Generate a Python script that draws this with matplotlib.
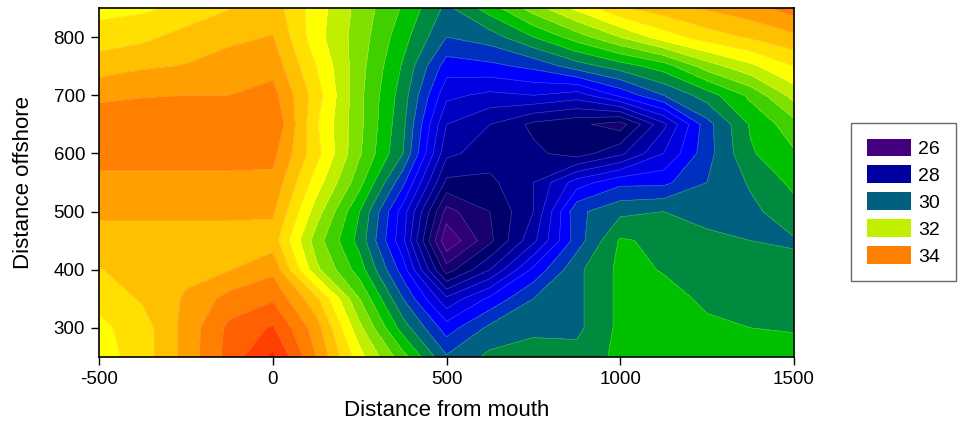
import numpy as np
import matplotlib
matplotlib.use("Agg")
import matplotlib.pyplot as plt
from matplotlib.colors import ListedColormap, BoundaryNorm
from matplotlib.patches import Patch

plt.rcParams['font.family'] = ['Liberation Sans', 'DejaVu Sans']
plt.rcParams['axes.unicode_minus'] = False

# grid of stations (distance from mouth, distance offshore)
x_pos = [-500, -375, -250, -125, 0, 125, 250, 375, 500, 625, 750, 875, 1000, 1125, 1250, 1375, 1500]
y_pos = [850, 800, 750, 700, 650, 600, 550, 500, 450, 400, 350, 300, 250]

# salinity, one row per y_pos (top row first)
salinity = [
    [32.65, 32.72, 32.92, 33.18, 33.40, 32.60, 31.85, 31.15, 30.30, 31.00, 31.80, 32.50, 33.15, 33.40, 33.65, 33.85, 34.20],
    [33.00, 33.10, 33.35, 33.50, 33.62, 32.55, 31.80, 30.95, 30.00, 30.20, 30.80, 31.40, 32.00, 32.60, 33.00, 33.25, 33.50],
    [33.40, 33.55, 33.62, 33.80, 33.85, 32.80, 31.75, 30.75, 29.40, 29.50, 29.70, 30.20, 30.60, 31.00, 31.80, 32.30, 32.80],
    [33.93, 33.98, 34.00, 34.00, 34.15, 33.00, 31.70, 30.60, 28.90, 28.70, 28.80, 28.60, 29.30, 30.00, 30.60, 31.30, 32.15],
    [34.20, 34.20, 34.20, 34.20, 34.40, 32.85, 31.70, 30.50, 28.40, 28.00, 27.50, 27.30, 27.00, 28.30, 29.85, 30.85, 31.45],
    [34.15, 34.15, 34.15, 34.15, 34.12, 32.95, 31.65, 30.40, 28.10, 27.80, 27.70, 27.40, 27.90, 28.80, 29.85, 30.75, 31.15],
    [33.90, 33.90, 33.90, 33.90, 33.90, 32.60, 31.35, 29.70, 27.50, 27.50, 28.00, 29.00, 29.50, 29.50, 30.00, 30.45, 30.90],
    [33.67, 33.67, 33.67, 33.67, 33.67, 32.20, 30.80, 29.00, 26.65, 27.20, 28.00, 29.90, 30.30, 30.40, 30.25, 30.30, 30.65],
    [33.45, 33.45, 33.45, 33.45, 33.40, 31.80, 30.65, 28.90, 26.05, 27.10, 28.30, 29.80, 30.85, 30.70, 30.50, 30.40, 30.36],
    [33.18, 33.35, 33.50, 33.58, 33.90, 32.10, 31.00, 29.40, 27.00, 28.00, 29.30, 30.30, 30.90, 30.78, 30.65, 30.55, 30.50],
    [32.90, 33.25, 33.65, 34.15, 34.35, 33.30, 31.60, 30.00, 28.50, 29.30, 30.00, 30.30, 30.90, 30.90, 30.75, 30.65, 30.62],
    [32.70, 33.00, 33.75, 34.50, 34.85, 33.80, 32.10, 30.60, 29.40, 30.10, 30.30, 30.30, 30.90, 30.95, 30.85, 30.80, 30.77],
    [32.60, 33.00, 33.75, 34.55, 35.30, 34.00, 32.55, 31.35, 30.05, 30.50, 30.60, 30.55, 30.90, 30.95, 30.95, 30.90, 30.95],
]

# one colour per 0.4 band, starting at 26.0
band_colors = [
    '#44007e', '#2e0078', '#180070', '#00006a', '#000084', '#0000a0',
    '#0000c0', '#0000e0', '#0000ff', '#0030c0', '#006080', '#008a40',
    '#00c000', '#40d000', '#80e000', '#c0f000', '#ffff00', '#ffe000',
    '#ffc000', '#ffa000', '#ff8000', '#ff6000', '#ff4000', '#ff2000',
]

legend_values = [26, 28, 30, 32, 34]
legend_colors = ['#44007e', '#0000a0', '#006080', '#c0f000', '#ff8000']

levels = np.round(np.arange(26.0, 35.7, 0.4), 2)
cmap = ListedColormap(band_colors)
cmap.set_under(band_colors[0])
cmap.set_over(band_colors[-1])
norm = BoundaryNorm(levels, cmap.N)

z = np.array(salinity)

fig = plt.figure(figsize=(9.62, 4.23), dpi=100)
ax = fig.add_axes([99 / 962, 1 - 357 / 423, 695 / 962, 349 / 423])

ax.contourf(x_pos, y_pos, z, levels=levels, cmap=cmap, norm=norm, extend='both')
ax.contour(x_pos, y_pos, z, levels=levels, colors='white', linewidths=0.4, alpha=0.3)

ax.set_xlim(-500, 1500)
ax.set_ylim(250, 850)
ax.set_xticks([-500, 0, 500, 1000, 1500])
ax.set_yticks([300, 400, 500, 600, 700, 800])
ax.tick_params(direction='out', length=6, width=1, labelsize=13.5, pad=4,
               top=False, right=False)
for s in ax.spines.values():
    s.set_linewidth(1.2)

ax.set_xlabel('Distance from mouth', fontsize=16, labelpad=9)
ax.set_ylabel('Distance offshore', fontsize=16, labelpad=14)

handles = [Patch(facecolor=c, edgecolor='none') for c in legend_colors]
labels = [str(v) for v in legend_values]
leg = fig.legend(handles, labels, loc='upper left',
                 bbox_to_anchor=(851 / 962, 1 - 123 / 423),
                 frameon=True, fancybox=False, fontsize=14,
                 handlelength=2.3, handleheight=1.0, labelspacing=0.39,
                 handletextpad=0.35, borderpad=0.8, borderaxespad=0)
leg.get_frame().set_edgecolor('#444444')
leg.get_frame().set_linewidth(1.0)

fig.savefig('out.png', dpi=100)
